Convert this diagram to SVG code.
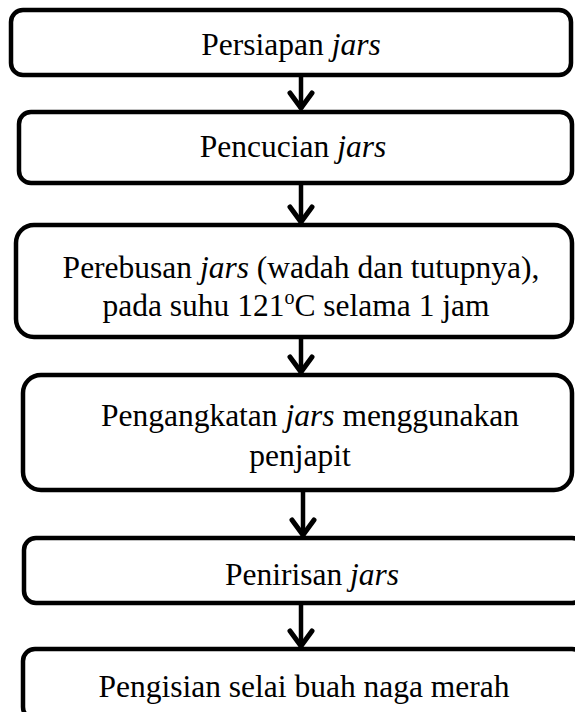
<svg xmlns="http://www.w3.org/2000/svg" width="575" height="712" viewBox="0 0 575 712">
<style>
.box{fill:#fff;stroke:#000;stroke-width:4.5}
.t{font-family:"Liberation Serif","Times New Roman",serif;font-size:31.5px;fill:#000;text-anchor:middle}
.i{font-family:"Liberation Serif";font-style:italic}
.ln{stroke:#000;stroke-width:4.5;fill:none}
.hd{stroke:#000;stroke-width:5;fill:none;stroke-linejoin:miter;stroke-linecap:round}
</style>
<g id="connectors">
<line class="ln" x1="301" y1="75" x2="301" y2="109"/><polyline class="hd" points="290,93 301,108 312,93"/>
<line class="ln" x1="301" y1="183" x2="301" y2="223"/><polyline class="hd" points="290,207 301,222 312,207"/>
<line class="ln" x1="301" y1="337" x2="301" y2="373"/><polyline class="hd" points="290,357 301,372 312,357"/>
<line class="ln" x1="303" y1="490" x2="303" y2="536"/><polyline class="hd" points="292,520 303,535 314,520"/>
<line class="ln" x1="301" y1="603" x2="301" y2="647"/><polyline class="hd" points="290,631 301,646 312,631"/>
</g>
<g id="n1"><rect class="box" x="11" y="10" width="560" height="65" rx="12"/>
<text class="t" x="291" y="55">Persiapan <tspan class="i">jars</tspan></text></g>
<g id="n2"><rect class="box" x="19" y="112" width="553" height="71" rx="12"/>
<text class="t" x="293" y="157">Pencucian <tspan class="i">jars</tspan></text></g>
<g id="n3"><rect class="box" x="16" y="225" width="556" height="112" rx="18"/>
<text class="t" x="301" y="278">Perebusan <tspan class="i">jars</tspan> (wadah dan tutupnya),</text>
<text class="t" x="296" y="316">pada suhu 121<tspan font-size="20" dy="-12">o</tspan><tspan dy="12">C selama 1 jam</tspan></text></g>
<g id="n4"><rect class="box" x="23" y="375" width="549" height="115" rx="18"/>
<text class="t" x="310" y="426">Pengangkatan <tspan class="i">jars</tspan> menggunakan</text>
<text class="t" x="300" y="466">penjapit</text></g>
<g id="n5"><rect class="box" x="24" y="538" width="560" height="65" rx="12"/>
<text class="t" x="312" y="585">Penirisan <tspan class="i">jars</tspan></text></g>
<g id="n6"><rect class="box" x="23" y="649" width="561" height="70" rx="12"/>
<text class="t" x="304" y="697">Pengisian selai buah naga merah</text></g>
</svg>
